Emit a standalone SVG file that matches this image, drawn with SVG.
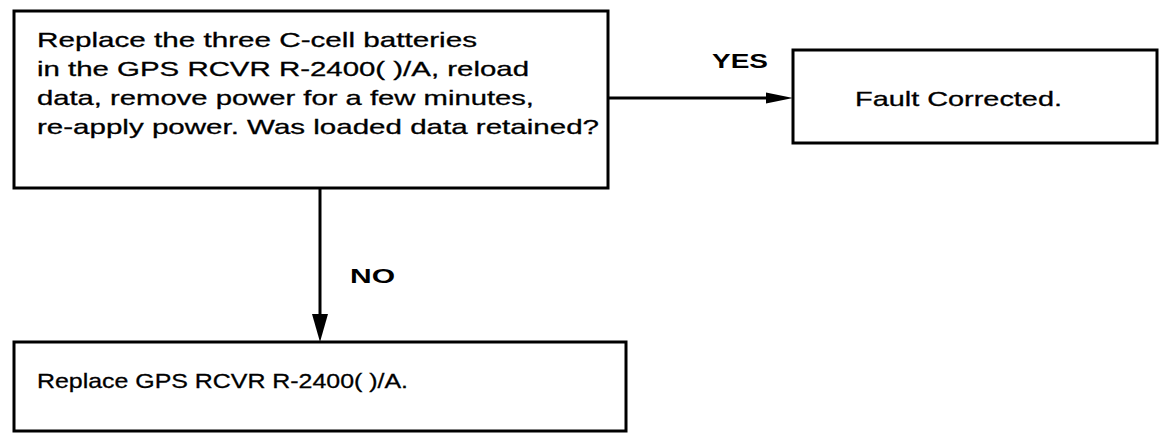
<svg xmlns="http://www.w3.org/2000/svg" width="1167" height="441" viewBox="0 0 1167 441">
<style>
.box{fill:#fff;stroke:#000;stroke-width:3}
.t{font-family:"Liberation Sans",Arial,sans-serif;font-size:21px;fill:#000;stroke:#000;stroke-width:0.3}
.b{font-family:"Liberation Sans",Arial,sans-serif;font-size:21px;font-weight:bold;fill:#000}
.c{stroke:#000;stroke-width:3;fill:none}
.h{fill:#000}
</style>
<rect width="1167" height="441" fill="#fff"/>
<g id="connectors">
<line class="c" x1="606" y1="98" x2="772" y2="98"/>
<polygon class="h" points="793,98 766,92.5 766,103.5"/>
<line class="c" x1="320" y1="188" x2="320" y2="322"/>
<polygon class="h" points="320,342 312,314 328,314"/>
<text class="b" x="712" y="68" textLength="56" lengthAdjust="spacingAndGlyphs">YES</text>
<text class="b" x="350" y="283" textLength="45" lengthAdjust="spacingAndGlyphs">NO</text>
</g>
<g id="node-check">
<rect class="box" x="14" y="11" width="594" height="177"/>
<text class="t" x="37" y="47" textLength="440" lengthAdjust="spacingAndGlyphs">Replace the three C-cell batteries</text>
<text class="t" x="37" y="76" textLength="492" lengthAdjust="spacingAndGlyphs">in the GPS RCVR R-2400( )/A, reload</text>
<text class="t" x="37" y="105" textLength="497" lengthAdjust="spacingAndGlyphs">data, remove power for a few minutes,</text>
<text class="t" x="37" y="134" textLength="562" lengthAdjust="spacingAndGlyphs">re-apply power.  Was loaded data retained?</text>
</g>
<g id="node-fault-corrected">
<rect class="box" x="793" y="50" width="364" height="93"/>
<text class="t" x="855" y="106" textLength="207" lengthAdjust="spacingAndGlyphs">Fault Corrected.</text>
</g>
<g id="node-replace">
<rect class="box" x="14" y="342" width="612" height="89"/>
<text class="t" x="37" y="388" textLength="371" lengthAdjust="spacingAndGlyphs">Replace GPS RCVR R-2400( )/A.</text>
</g>
</svg>
